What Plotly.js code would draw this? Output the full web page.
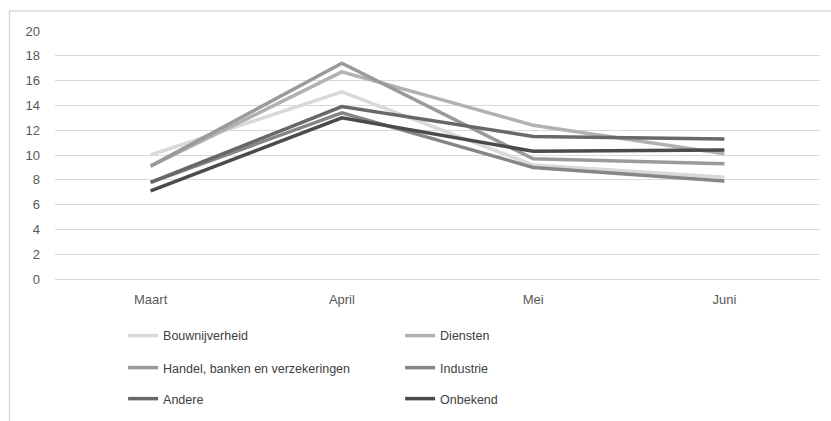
<!DOCTYPE html>
<html>
<head>
<meta charset="utf-8">
<script src="https://cdn.plot.ly/plotly-3.0.1.min.js"></script>
<style>html,body{margin:0;padding:0;background:#fff;}#chart{width:831px;height:421px;}</style>
</head>
<body>
<div id="chart"></div>
<script>
const months = ["Maart", "April", "Mei", "Juni"];
const seriesNames = ["Bouwnijverheid", "Diensten", "Handel, banken en verzekeringen", "Industrie", "Andere", "Onbekend"];
const bouwnijverheid = [10.0, 15.1, 9.2, 8.2];
const diensten = [9.1, 16.7, 12.4, 10.1];
const handel = [9.1, 17.4, 9.7, 9.3];
const industrie = [7.8, 13.4, 9.0, 7.9];
const andere = [7.8, 13.9, 11.5, 11.3];
const onbekend = [7.1, 13.0, 10.3, 10.4];
const yTicks = [0, 2, 4, 6, 8, 10, 12, 14, 16, 18, 20];

const values = [bouwnijverheid, diensten, handel, industrie, andere, onbekend];
const colors = ["#d9d9d9", "#b1b1b1", "#9a9a9a", "#868686", "#686868", "#4b4b4b"];
const legendIds = ["legend", "legend", "legend2", "legend2", "legend3", "legend3"];

const font = "'Liberation Sans', Arial, sans-serif";

const traces = values.map((v, i) => ({
  type: "scatter",
  mode: "lines",
  x: months,
  y: v,
  name: seriesNames[i],
  legend: legendIds[i],
  line: {color: colors[i], width: 3.5},
  hoverinfo: "skip"
}));

const legendBase = {
  orientation: "h",
  xanchor: "left",
  yanchor: "middle",
  x: 0.089,
  entrywidth: 232,
  entrywidthmode: "pixels",
  bgcolor: "rgba(0,0,0,0)",
  font: {family: font, size: 12.5, color: "#404040"},
  traceorder: "normal"
};

const layout = {
  width: 831,
  height: 421,
  margin: {l: 55, r: 11, t: 31, b: 142, autoexpand: false},
  paper_bgcolor: "#fff",
  plot_bgcolor: "#fff",
  font: {family: font, size: 13, color: "#595959"},
  showlegend: true,
  legend: Object.assign({}, legendBase, {y: -0.2298}),
  legend2: Object.assign({}, legendBase, {y: -0.3589}),
  legend3: Object.assign({}, legendBase, {y: -0.4839}),
  xaxis: {
    type: "category",
    range: [-0.5, 3.5],
    showgrid: false,
    zeroline: false,
    showline: false,
    ticks: "",
    ticklabelstandoff: 11,
    tickfont: {family: font, size: 13, color: "#595959"},
    fixedrange: true
  },
  yaxis: {
    range: [0, 20],
    tickvals: yTicks,
    ticktext: yTicks.map(String),
    showgrid: true,
    gridcolor: "#d9d9d9",
    gridwidth: 1,
    zeroline: true,
    zerolinecolor: "#d9d9d9",
    zerolinewidth: 1,
    showline: false,
    ticks: "",
    ticklabelstandoff: 14,
    tickfont: {family: font, size: 13, color: "#595959"},
    fixedrange: true
  },
  shapes: [
    {type: "line", xref: "paper", yref: "paper", x0: -0.0595, x1: 1.02, y0: 1.0806, y1: 1.0806, line: {color: "#d9d9d9", width: 1.5}},
    {type: "line", xref: "paper", yref: "paper", x0: -0.0595, x1: -0.0595, y0: 1.0806, y1: -0.58, line: {color: "#d9d9d9", width: 1.5}}
  ]
};

Plotly.newPlot("chart", traces, layout, {staticPlot: true, displayModeBar: false});
</script>
</body>
</html>
